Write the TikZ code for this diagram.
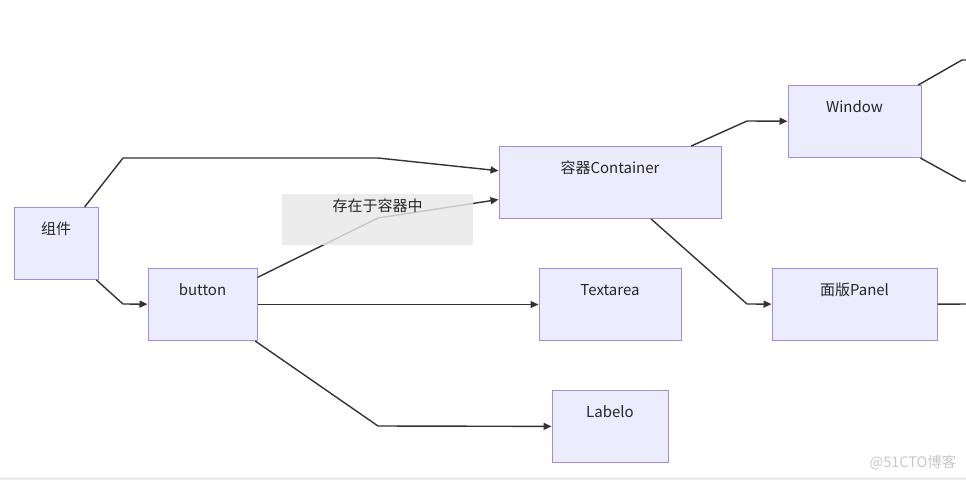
\documentclass[tikz,border=0pt]{standalone}
\usepackage{fontspec}
\setmainfont{Noto Sans CJK SC}
\usetikzlibrary{arrows.meta}
\definecolor{nodefill}{HTML}{ECECFF}
\definecolor{nodeline}{HTML}{A58BE0}
\definecolor{edgecol}{HTML}{333333}
\definecolor{lblfill}{HTML}{E8E8E8}
\definecolor{wmcol}{HTML}{C8C8C8}
\definecolor{txtcol}{HTML}{262626}
\begin{document}
\begin{tikzpicture}[x=1pt,y=-1pt,
  box/.style={draw=nodeline, fill=nodefill, line width=1pt, inner xsep=0pt, inner ysep=0pt,
    text height=27pt, text depth=45pt, anchor=north, text=txtcol,
    font=\fontsize{15}{18}\selectfont},
  edge/.style={draw=edgecol, line width=1.4pt, -{Triangle[length=8pt,width=7pt]}},
  plain/.style={draw=edgecol, line width=1.4pt},
  lblbox/.style={fill=lblfill, fill opacity=0.82, text opacity=1, inner sep=0pt, anchor=north,
    minimum width=191pt, text height=17pt, text depth=34pt, text=txtcol,
    font=\fontsize{15}{18}\selectfont}]
\useasboundingbox (0,0) rectangle (966,480);
\fill[white] (0,0) rectangle (966,480);
\fill[black!8] (0,477) rectangle (966,480);

\node[box, minimum width=84pt] (comp) at (56,207) {组件};
\node[box, minimum width=109pt] (btn) at (202.5,268) {button};
\node[box, minimum width=222pt] (cont) at (610,146) {容器Container};
\node[box, minimum width=133pt] (win) at (854.5,85) {Window};
\node[box, minimum width=142pt] (ta) at (610,268) {Textarea};
\node[box, minimum width=165pt] (pan) at (854.5,268) {面版Panel};
\node[box, minimum width=116pt] (lab) at (610,390) {Labelo};

\coordinate (b1) at (123,158);
\coordinate (b2) at (378,158);
\coordinate (b3) at (123,304);
\coordinate (b4) at (378,218);
\coordinate (b5) at (378,426);
\coordinate (b6) at (747,121);
\coordinate (b7) at (747,304);
\coordinate (w1) at (962,60);
\coordinate (w1e) at (970,60);
\coordinate (w2) at (962,181);
\coordinate (w2e) at (970,181);
\coordinate (p1) at (970,304);

\draw[edge] (comp) -- (b1) -- (b2) -- (cont);
\draw[edge] (comp) -- (b3) -- (btn);
\draw[edge] (btn) -- (b4) -- (cont);
\draw[edge] (btn) -- (ta);
\draw[edge] (btn) -- (b5) -- (lab);
\draw[edge] (cont) -- (b6) -- (win);
\draw[edge] (cont) -- (b7) -- (pan);
\draw[plain] (win) -- (w1) -- (w1e);
\draw[plain] (win) -- (w2) -- (w2e);
\draw[plain] (pan) -- (p1);

\node[lblbox] (lbl) at (377.5,194) {存在于容器中};

\node[text=wmcol, font=\fontsize{14.5}{17}\selectfont] (wm) at (913,463) {@51CTO博客};
\end{tikzpicture}
\end{document}
